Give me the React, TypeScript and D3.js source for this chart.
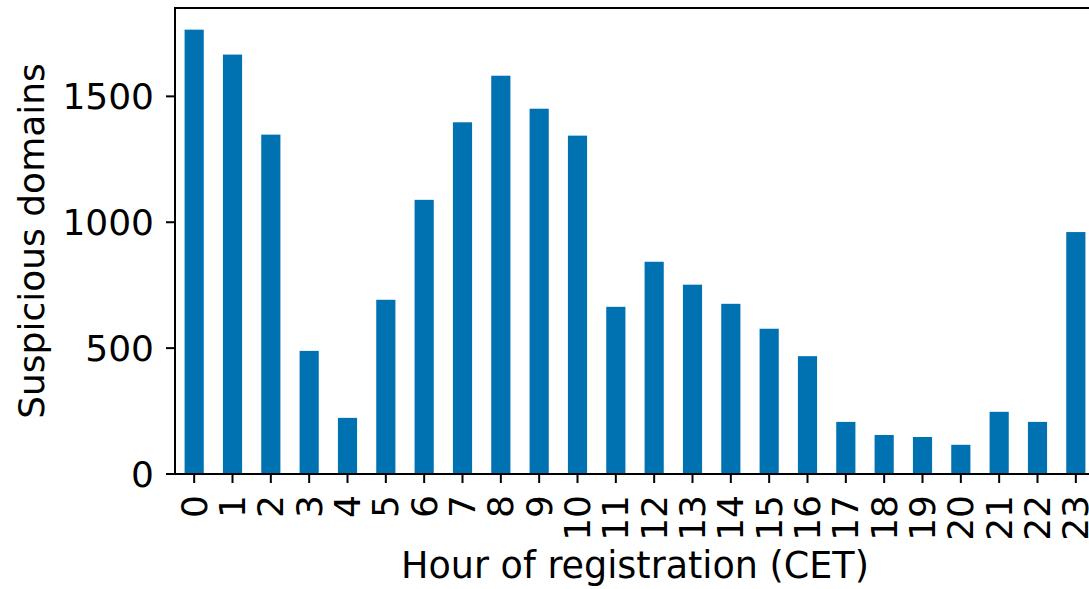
import React from "react";
import * as d3 from "d3";

const hours: string[] = ["0","1","2","3","4","5","6","7","8","9","10","11","12","13","14","15","16","17","18","19","20","21","22","23"];
const counts: number[] = [1765,1666,1348,489,223,692,1089,1397,1582,1451,1344,664,843,752,676,577,468,207,155,147,116,247,207,961];
const yTicks: number[] = [0,500,1000,1500];
const xLabel = "Hour of registration (CET)";
const yLabel = "Suspicious domains";

const W = 1089, H = 589;
const left = 175, right = 1095, top = 8, bottom = 474;
const FONT = "DejaVu Sans, sans-serif";
const FS = 36;

export default function App() {
  const x = d3.scaleBand<string>().domain(hours).range([left, right]).paddingInner(0.5).paddingOuter(0.25);
  const y = d3.scaleLinear().domain([0, 1851]).range([bottom, top]);
  return (
    <div style={{ position: "absolute", left: 0, top: 0 }}>
      <svg width={W} height={H} style={{ display: "block", background: "#fff" }} fontFamily={FONT}>
        <defs>
          <clipPath id="c"><rect x={0} y={0} width={W} height={H} /></clipPath>
        </defs>
        <g clipPath="url(#c)">
          {hours.map((h, i) => (
            <rect key={h} x={x(h)} y={y(counts[i])} width={x.bandwidth()} height={bottom - y(counts[i])} fill="#0072B2" />
          ))}
          <line x1={left} x2={left} y1={top} y2={bottom} stroke="#000" strokeWidth={2} strokeLinecap="square" />
          <line x1={left} x2={right} y1={bottom} y2={bottom} stroke="#000" strokeWidth={2} strokeLinecap="square" />
          <line x1={left} x2={right} y1={top} y2={top} stroke="#000" strokeWidth={2} strokeLinecap="square" />
          <line x1={right} x2={right} y1={top} y2={bottom} stroke="#000" strokeWidth={2} />
          {yTicks.map(t => (
            <g key={t}>
              <line x1={left - 9} x2={left} y1={y(t)} y2={y(t)} stroke="#000" strokeWidth={2} />
              <text x={left - 21} y={y(t)} textAnchor="end" dominantBaseline="central" fontSize={FS} fill="#000">{t}</text>
            </g>
          ))}
          {hours.map(h => {
            const cx = (x(h) as number) + x.bandwidth() / 2;
            return (
              <g key={"t" + h}>
                <line x1={cx} x2={cx} y1={bottom} y2={bottom + 9} stroke="#000" strokeWidth={2} />
                <text transform={`translate(${cx},${bottom + 21}) rotate(-90)`} textAnchor="end" dominantBaseline="central" fontSize={FS} fill="#000">{h}</text>
              </g>
            );
          })}
          <text x={(left + right) / 2} y={578} textAnchor="middle" fontSize={36.5} fill="#000">{xLabel}</text>
          <text transform={`translate(44,${(top + bottom) / 2}) rotate(-90)`} textAnchor="middle" fontSize={FS} fill="#000">{yLabel}</text>
        </g>
      </svg>
    </div>
  );
}
